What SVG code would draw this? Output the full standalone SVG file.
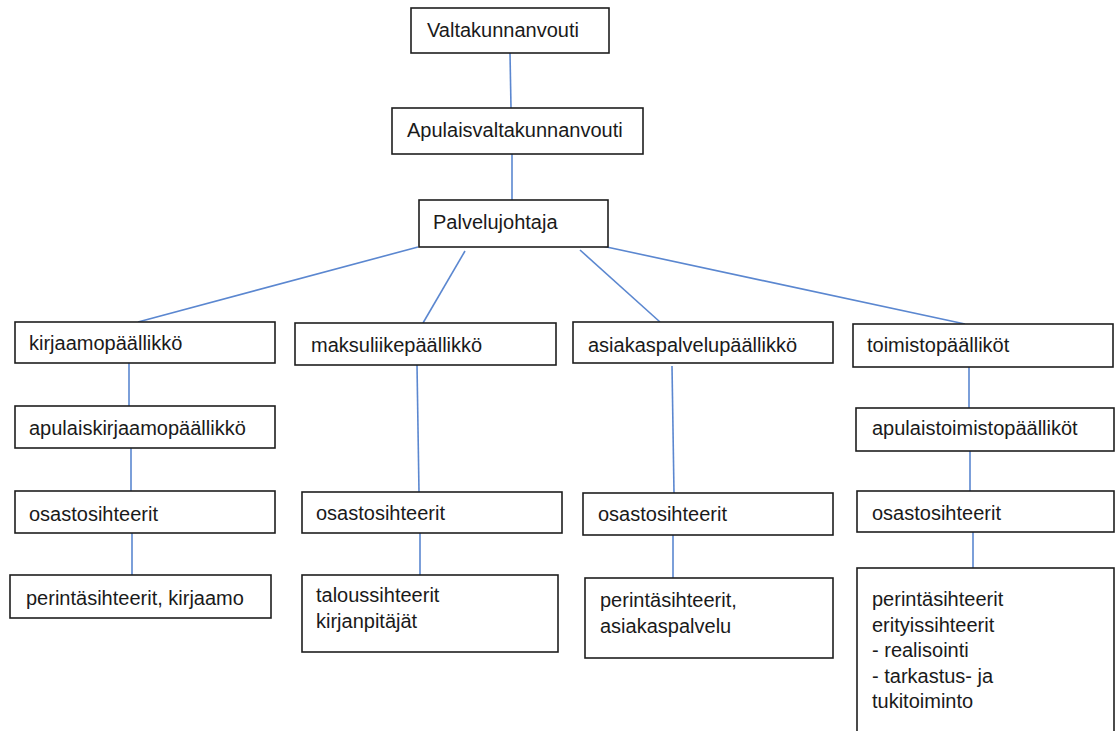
<svg xmlns="http://www.w3.org/2000/svg" width="1115" height="731" viewBox="0 0 1115 731">
<style>
.box{fill:#fff;stroke:#1e1e1e;stroke-width:1.6}
.t{font-family:"Liberation Sans",Arial,sans-serif;font-size:20px;fill:#1a1a1a}
.c line{stroke:#5b87d0;stroke-width:1.6}
</style>
<rect width="1115" height="731" fill="#fff"/>
<g class="c" id="connectors">
<line x1="510" y1="53" x2="511" y2="108"/>
<line x1="512" y1="154" x2="512" y2="200"/>
<line x1="418" y1="247" x2="138" y2="322"/>
<line x1="465" y1="251" x2="423" y2="323"/>
<line x1="580" y1="250" x2="660" y2="322"/>
<line x1="602" y1="246" x2="965" y2="324"/>
<line x1="129" y1="363" x2="129" y2="406"/>
<line x1="131" y1="448" x2="131" y2="491"/>
<line x1="132" y1="533" x2="132" y2="575"/>
<line x1="417" y1="365" x2="419" y2="492"/>
<line x1="420" y1="533" x2="420" y2="575"/>
<line x1="672" y1="366" x2="674" y2="493"/>
<line x1="673" y1="535" x2="673" y2="578"/>
<line x1="969" y1="367" x2="969" y2="408"/>
<line x1="970" y1="451" x2="970" y2="491"/>
<line x1="973" y1="532" x2="973" y2="568"/>
</g>
<g id="valtakunnanvouti"><rect class="box" x="411" y="8" width="198" height="45"/><text class="t" x="427" y="37">Valtakunnanvouti</text></g>
<g id="apulaisvaltakunnanvouti"><rect class="box" x="392" y="108" width="251" height="46"/><text class="t" x="407" y="137">Apulaisvaltakunnanvouti</text></g>
<g id="palvelujohtaja"><rect class="box" x="419" y="200" width="189" height="47"/><text class="t" x="433" y="229">Palvelujohtaja</text></g>
<g id="kirjaamopaallikko"><rect class="box" x="15" y="322" width="260" height="41"/><text class="t" x="29" y="350">kirjaamopäällikkö</text></g>
<g id="apulaiskirjaamopaallikko"><rect class="box" x="15" y="406" width="260" height="42"/><text class="t" x="29" y="435">apulaiskirjaamopäällikkö</text></g>
<g id="osastosihteerit1"><rect class="box" x="15" y="491" width="260" height="42"/><text class="t" x="29" y="521">osastosihteerit</text></g>
<g id="perinta1"><rect class="box" x="10" y="575" width="261" height="43"/><text class="t" x="26" y="605">perintäsihteerit, kirjaamo</text></g>
<g id="maksuliikepaallikko"><rect class="box" x="295" y="323" width="261" height="42"/><text class="t" x="311" y="352">maksuliikepäällikkö</text></g>
<g id="osastosihteerit2"><rect class="box" x="302" y="492" width="260" height="41"/><text class="t" x="316" y="520">osastosihteerit</text></g>
<g id="taloussihteerit"><rect class="box" x="302" y="575" width="256" height="77"/><text class="t" x="316" y="602">taloussihteerit</text><text class="t" x="316" y="628">kirjanpitäjät</text></g>
<g id="asiakaspalvelupaallikko"><rect class="box" x="573" y="322" width="260" height="41"/><text class="t" x="588" y="352">asiakaspalvelupäällikkö</text></g>
<g id="osastosihteerit3"><rect class="box" x="583" y="493" width="250" height="42"/><text class="t" x="598" y="521">osastosihteerit</text></g>
<g id="perinta3"><rect class="box" x="585" y="578" width="248" height="80"/><text class="t" x="600" y="607">perintäsihteerit,</text><text class="t" x="600" y="633">asiakaspalvelu</text></g>
<g id="toimistopaallikot"><rect class="box" x="853" y="324" width="260" height="43"/><text class="t" x="867" y="352">toimistopäälliköt</text></g>
<g id="apulaistoimistopaallikot"><rect class="box" x="856" y="408" width="258" height="43"/><text class="t" x="872" y="435">apulaistoimistopäälliköt</text></g>
<g id="osastosihteerit4"><rect class="box" x="857" y="491" width="257" height="41"/><text class="t" x="872" y="520">osastosihteerit</text></g>
<g id="perinta4"><rect class="box" x="857" y="568" width="257" height="175"/><text class="t" x="872" y="606">perintäsihteerit</text><text class="t" x="872" y="632">erityissihteerit</text><text class="t" x="872" y="657">- realisointi</text><text class="t" x="872" y="683">- tarkastus- ja</text><text class="t" x="872" y="708">tukitoiminto</text></g>
</svg>
